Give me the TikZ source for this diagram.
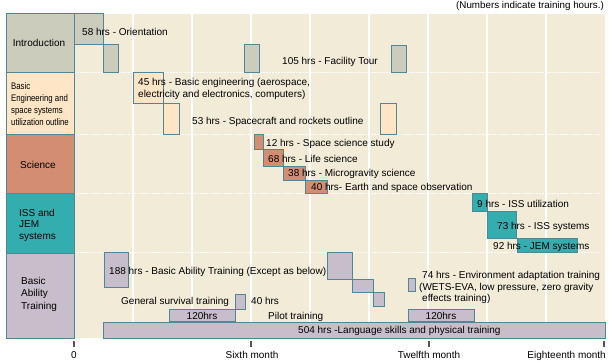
\documentclass[tikz,border=0pt]{standalone}
\usepackage{fontspec}
\setmainfont{Liberation Sans}
\newfontfamily\narrowfont[FakeStretch=0.82]{Liberation Sans}
\definecolor{bgc}{HTML}{F1EBD8}
\definecolor{introc}{HTML}{CCCCBD}
\definecolor{engc}{HTML}{FDE5C5}
\definecolor{scic}{HTML}{D38D73}
\definecolor{issc}{HTML}{34ADAE}
\definecolor{abc}{HTML}{C8BDCA}
\definecolor{edgec}{HTML}{4E8797}
\definecolor{tickc}{HTML}{555555}
\tikzset{
  cell/.style={draw=edgec, line width=1pt},
  gbar/.style={draw=edgec, line width=1pt},
  lbl/.style={font=\fontsize{10}{12}\selectfont, inner sep=0pt, anchor=base west},
  clbl/.style={font=\fontsize{10}{12}\selectfont, inner sep=0pt, anchor=base},
  grid line/.style={white, line width=1.2pt},
  row line/.style={white, line width=1pt, dash pattern=on 2pt off 1pt},
  axtick/.style={tickc, line width=1.5pt}
}
\begin{document}
\begin{tikzpicture}[x=1pt,y=-1pt]
\useasboundingbox (0,0) rectangle (609,361);
% background
\fill[bgc] (74,14) rectangle (605,338);
\foreach \x in {133,192,251,310,369,428,487,546}
  \draw[grid line] (\x,14) -- (\x,338);
\foreach \y in {72,134,193,252}
  \draw[row line] (74,\y) -- (600,\y);
% category cells
\draw[cell, fill=introc] (6,14) rectangle (74,72);
\draw[cell, fill=engc] (6,72) rectangle (74,134);
\draw[cell, fill=scic] (6,134) rectangle (74,193);
\draw[cell, fill=issc] (6,193) rectangle (74,253);
\draw[cell, fill=abc] (6,253) rectangle (74,338);
\node[clbl] (cIntro) at (39,47) {Introduction};
\node[font=\narrowfont\fontsize{9.5}{11.7}\selectfont, inner sep=0pt, anchor=base west, align=left] (cEng) at (11,125)
  {Basic\\Engineering and\\space systems\\utilization outline};
\node[clbl] (cSci) at (38,168) {Science};
\node[font=\fontsize{10}{11.5}\selectfont, inner sep=0pt, anchor=base west, align=left] (cIss) at (19,239) {ISS and\\JEM\\systems};
\node[font=\fontsize{10}{12.5}\selectfont, inner sep=0pt, anchor=base west, align=left] (cAb) at (21,309) {Basic\\Ability\\Training};
% introduction bars
\draw[gbar, fill=introc] (74,14) rectangle (103,45);
\draw[gbar, fill=introc] (103,45) rectangle (118,72);
\draw[gbar, fill=introc] (244,45) rectangle (259,72);
\draw[gbar, fill=introc] (391,46) rectangle (406,72);
\node[lbl] (tOri) at (82,35) {58 hrs - Orientation};
\node[lbl] (tTour) at (282,64) {105 hrs - Facility Tour};
% basic engineering bars
\draw[gbar, fill=engc] (133,72) rectangle (163,103);
\draw[gbar, fill=engc] (163,103) rectangle (179,134);
\draw[gbar, fill=engc] (380,103) rectangle (396,134);
\node[lbl] (tEng1) at (138,85) {45 hrs - Basic engineering (aerospace,};
\node[lbl] (tEng2) at (138,97) {electricity and electronics, computers)};
\node[lbl] (tCraft) at (192,124) {53 hrs - Spacecraft and rockets outline};
% science bars
\draw[gbar, fill=scic] (254,134) rectangle (263,149);
\draw[gbar, fill=scic] (263,149) rectangle (283,166);
\draw[gbar, fill=scic] (283,166) rectangle (305,180);
\draw[gbar, fill=scic] (305,180) rectangle (327,193);
\node[lbl] (tSS) at (266,146) {12 hrs - Space science study};
\node[lbl] (tLife) at (268,162) {68 hrs - Life science};
\node[lbl] (tMicro) at (288,176) {38 hrs - Microgravity science};
\node[lbl] (tEarth) at (311,190) {40 hrs- Earth and space observation};
% ISS bars
\draw[gbar, fill=issc] (472,193) rectangle (487,211);
\draw[gbar, fill=issc] (487,211) rectangle (516,238);
\draw[gbar, fill=issc] (517,238) rectangle (577,252);
\node[lbl] (tIssU) at (477,207) {9 hrs - ISS utilization};
\node[lbl] (tIssS) at (497,229) {73 hrs - ISS systems};
\node[lbl] (tJem) at (493,249) {92 hrs - JEM systems};
% basic ability bars
\draw[gbar, fill=abc] (104,252) rectangle (128,287);
\draw[gbar, fill=abc] (327,252) rectangle (352,279);
\draw[gbar, fill=abc] (352,279) rectangle (373,292);
\draw[gbar, fill=abc] (373,292) rectangle (384,306);
\draw[gbar, fill=abc] (235,294) rectangle (245,309);
\draw[gbar, fill=abc] (169,309) rectangle (235,321);
\draw[gbar, fill=abc] (408,278) rectangle (415,291);
\draw[gbar, fill=abc] (408,309) rectangle (474,321);
\draw[gbar, fill=abc] (103,322) rectangle (605,338);
\node[lbl] (tBAT) at (109,274) {188 hrs - Basic Ability Training (Except as below)};
\node[lbl] (tSurv) at (121,304) {General survival training};
\node[lbl] (tSurvH) at (251,304) {40 hrs};
\node[clbl] (tH1) at (202,319) {120hrs};
\node[lbl] (tPilot) at (268,319) {Pilot training};
\node[clbl] (tH2) at (441,319) {120hrs};
\node[lbl] (tEnv1) at (422,278) {74 hrs - Environment adaptation training};
\node[lbl] (tEnv2) at (419,290) {(WETS-EVA, low pressure, zero gravity};
\node[lbl] (tEnv3) at (422,301) {effects training)};
\node[lbl] (tLang) at (298,333) {504 hrs -Language skills and physical training};
% axis
\draw[axtick] (74,341) -- (74,347);
\draw[axtick] (251,341) -- (251,347);
\draw[axtick] (429,341) -- (429,347);
\draw[axtick] (604,341) -- (604,347);
\node[clbl] (a0) at (74,358) {0};
\node[clbl] (a6) at (252,358) {Sixth month};
\node[clbl] (a12) at (429,358) {Twelfth month};
\node[font=\fontsize{10}{12}\selectfont, inner sep=0pt, anchor=base east] (a18) at (606,358) {Eighteenth month};
\node[font=\fontsize{9.8}{12}\selectfont, inner sep=0pt, anchor=base east] (note) at (604,9) {(Numbers indicate training hours.)};
\end{tikzpicture}
\end{document}
